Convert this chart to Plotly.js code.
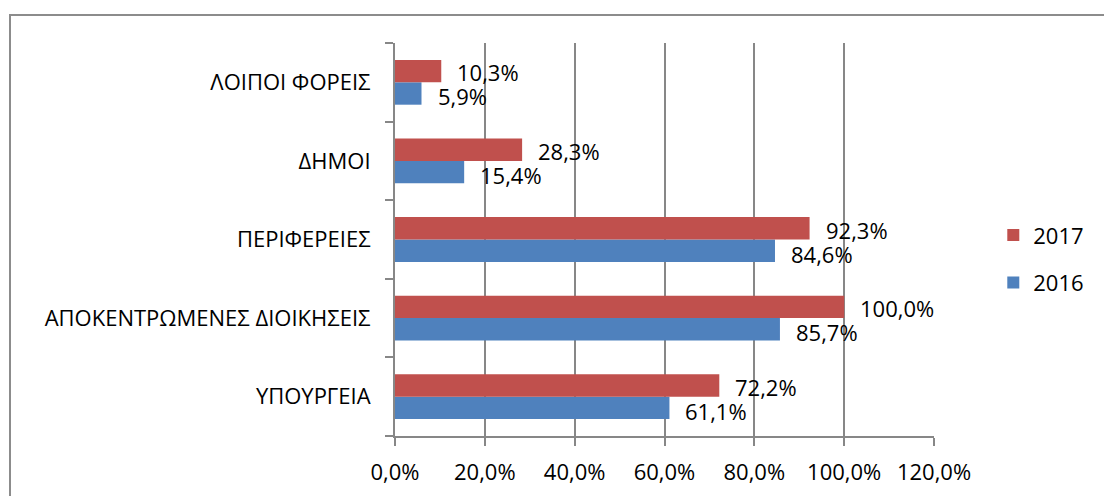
<!DOCTYPE html>
<html>
<head>
<meta charset="utf-8">
<script src="https://cdn.plot.ly/plotly-3.0.1.min.js"></script>
<style>
  body { margin: 0; background: #fff; overflow: hidden; }
  #chart { position: absolute; left: 0; top: 0; width: 1104px; height: 496px; }
  #frame { position: absolute; left: 9px; top: 14px; width: 1200px; height: 600px;
           border: 2px solid #8c8c8c; pointer-events: none; }
</style>
</head>
<body>
<div id="chart"></div>
<div id="frame"></div>
<script>
// categories bottom to top
var categories = ['ΥΠΟΥΡΓΕΙΑ', 'ΑΠΟΚΕΝΤΡΩΜΕΝΕΣ ΔΙΟΙΚΗΣΕΙΣ', 'ΠΕΡΙΦΕΡΕΙΕΣ', 'ΔΗΜΟΙ', 'ΛΟΙΠΟΙ ΦΟΡΕΙΣ'];
var values2016 = [61.1, 85.7, 84.6, 15.4, 5.9];
var values2017 = [72.2, 100.0, 92.3, 28.3, 10.3];
var xTicks = [0, 20, 40, 60, 80, 100, 120];

var FONT = 'Open Sans, sans-serif';
var gray = '#878787';

function pct(v){
  return v.toFixed(1).replace('.', ',') + '%';
}

var trace2016 = {
  type: 'bar', orientation: 'h',
  name: '2016', legendgroup: 'a', legendrank: 2,
  y: categories, x: values2016,
  marker: {color: '#4F81BD'},
  hoverinfo: 'none'
};
var trace2017 = {
  type: 'bar', orientation: 'h',
  name: '2017', legendgroup: 'b', legendrank: 1,
  y: categories, x: values2017,
  marker: {color: '#C0504D'},
  hoverinfo: 'none'
};

//value labels next to the bar ends
var annotations = [];
for (var i = 0; i < categories.length; i++) {
  annotations.push({
    x: values2017[i], y: categories[i], xref: 'x', yref: 'y',
    text: pct(values2017[i]), showarrow: false,
    xanchor: 'left', yanchor: 'middle', xshift: 14, yshift: 10,
    font: {family: FONT, size: 22, color: '#000'}
  });
  annotations.push({
    x: values2016[i], y: categories[i], xref: 'x', yref: 'y',
    text: pct(values2016[i]), showarrow: false,
    xanchor: 'left', yanchor: 'middle', xshift: 14, yshift: -14,
    font: {family: FONT, size: 22, color: '#000'}
  });
}

var layout = {
  width: 1104, height: 496,
  margin: {l: 395, r: 170, t: 43, b: 60, pad: 0},
  paper_bgcolor: '#fff', plot_bgcolor: '#fff',
  font: {family: FONT, size: 22, color: '#000'},
  barmode: 'group',
  bargap: 0.43,
  bargroupgap: 0,
  separators: ',.',
  showlegend: true,
  legend: {
    x: 1.11, y: 0.45, xanchor: 'left', yanchor: 'middle',
    traceorder: 'grouped', tracegroupgap: 16,
    itemwidth: 30,
    font: {family: FONT, size: 22, color: '#000'}
  },
  xaxis: {
    range: [0, 120],
    tickvals: xTicks,
    ticktext: xTicks.map(function(t){ return pct(t); }),
    showgrid: true, gridcolor: gray, gridwidth: 2,
    zeroline: false,
    showline: true, linecolor: gray, linewidth: 2,
    ticks: 'outside', ticklen: 8, tickcolor: gray, tickwidth: 2,
    ticklabelstandoff: 8,
    fixedrange: true
  },
  yaxis: {
    type: 'category',
    categoryorder: 'array', categoryarray: categories,
    tickson: 'boundaries',
    showgrid: false, zeroline: false,
    showline: true, linecolor: gray, linewidth: 2,
    ticks: 'outside', ticklen: 8, tickcolor: gray, tickwidth: 2,
    ticklabelstandoff: 18,
    fixedrange: true
  },
  annotations: annotations
};

Plotly.newPlot('chart', [trace2016, trace2017], layout, {displayModeBar: false, staticPlot: true});
</script>
</body>
</html>
